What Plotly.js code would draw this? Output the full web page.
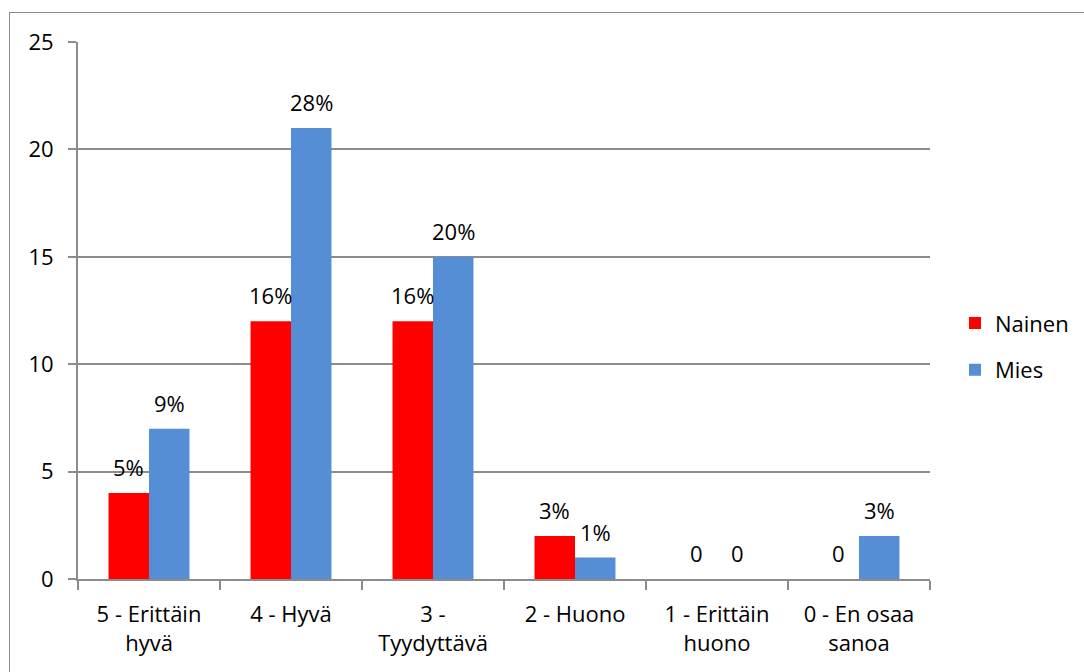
<!DOCTYPE html>
<html>
<head>
<meta charset="utf-8">
<script src="https://cdn.plot.ly/plotly-3.0.1.min.js"></script>
<style>
  body { margin: 0; padding: 0; background: #fff; }
  #wrap { position: relative; width: 1084px; height: 672px; overflow: hidden; }
  #chart { width: 1084px; height: 672px; }
  #frame { position: absolute; left: 9px; top: 12px; width: 1200px; height: 800px;
           border-left: 1px solid #8c8c8c; border-top: 1px solid #8c8c8c; pointer-events: none; }
</style>
</head>
<body>
<div id="wrap">
  <div id="chart"></div>
  <div id="frame"></div>
</div>
<script>
const categories = ["5 - Erittäin<br>hyvä", "4 - Hyvä", "3 -<br>Tyydyttävä", "2 - Huono", "1 - Erittäin<br>huono", "0 - En osaa<br>sanoa"];
const nainenValues = [4, 12, 12, 2, 0, 0];
const miesValues = [7, 21, 15, 1, 0, 2];
const nainenLabels = ["5%", "16%", "16%", "3%", "0", "0"];
const miesLabels = ["9%", "28%", "20%", "1%", "0", "3%"];
const yTicks = [0, 5, 10, 15, 20, 25];

const FONT = "'Open Sans', 'Noto Sans', Arial, sans-serif";
const FS = 22;
const RED = "#FF0000";
const BLUE = "#558ED5";

const traces = [
  { type: "bar", name: "Nainen", x: categories, y: nainenValues,
    marker: { color: RED }, legendgroup: "a", hoverinfo: "none" },
  { type: "bar", name: "Mies", x: categories, y: miesValues,
    marker: { color: BLUE }, legendgroup: "b", hoverinfo: "none" }
];

const annotations = [];
categories.forEach((c, i) => {
  annotations.push({ x: c, y: nainenValues[i], text: nainenLabels[i], xref: "x", yref: "y",
    showarrow: false, xshift: -20.5, yshift: 26, font: { family: FONT, size: FS, color: "#000" } });
  annotations.push({ x: c, y: miesValues[i], text: miesLabels[i], xref: "x", yref: "y",
    showarrow: false, xshift: 20.5, yshift: 26, font: { family: FONT, size: FS, color: "#000" } });
});

const layout = {
  width: 1084, height: 672,
  margin: { l: 78, r: 154, t: 42, b: 93, pad: 0, autoexpand: false },
  paper_bgcolor: "#fff", plot_bgcolor: "#fff",
  font: { family: FONT, size: FS, color: "#000" },
  barmode: "group", bargap: 0.43, bargroupgap: 0,
  showlegend: true,
  legend: { xref: "container", yref: "container", x: 0.881, y: 0.484,
    xanchor: "left", yanchor: "middle",
    traceorder: "grouped", tracegroupgap: 15,
    font: { family: FONT, size: FS, color: "#000" }, itemwidth: 30 },
  xaxis: {
    type: "category", tickson: "boundaries", ticks: "outside", ticklen: 9,
    tickcolor: "#8c8c8c", tickwidth: 2, showline: true, linecolor: "#8c8c8c", linewidth: 2,
    showgrid: false, tickfont: { family: FONT, size: FS, color: "#000" }, automargin: false,
    ticklabelstandoff: 15
  },
  yaxis: {
    range: [0, 25], tickvals: yTicks, ticktext: yTicks.map(String),
    ticks: "outside", ticklen: 8, tickcolor: "#8c8c8c", tickwidth: 2,
    showline: true, linecolor: "#8c8c8c", linewidth: 2,
    showgrid: true, gridcolor: "#8c8c8c", gridwidth: 2, zeroline: false,
    tickfont: { family: FONT, size: FS, color: "#000" }, automargin: false,
    ticklabelstandoff: 10
  },
  annotations: annotations
};

Plotly.newPlot("chart", traces, layout, { staticPlot: true, displayModeBar: false });
</script>
</body>
</html>
